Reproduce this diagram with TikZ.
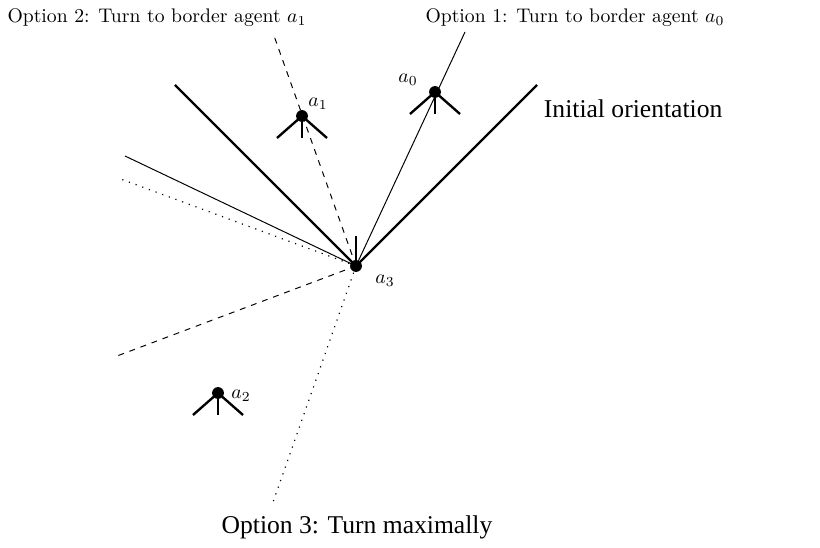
\documentclass[tikz,border=0pt]{standalone}
\usepackage{fontspec}
\usepackage{amsmath}
\newfontfamily\timesfont{Liberation Serif}
\usetikzlibrary{calc}

\begin{document}
\begin{tikzpicture}[x=0.508pt,y=-0.508pt]
\useasboundingbox (0,0) rectangle (820,548);
\coordinate (a3) at (356,266);
\coordinate (init left) at (175,85);
\coordinate (init right) at (537,85);
\coordinate (opt one) at (465,32);
\coordinate (opt two) at (273,33);
\coordinate (opt three) at (272,505);
\coordinate (solid left) at (125,156);
\coordinate (dot left) at (118,178);
\coordinate (dash left) at (117,356);
\coordinate (head) at (356,236);
\draw[line width=1.2pt] (init left) -- (a3) -- (init right);
\draw[line width=1.2pt] (a3) -- (head);
\draw[line width=0.5pt] (a3) -- (opt one);
\draw[line width=0.5pt] (a3) -- (solid left);
\draw[line width=0.5pt,dashed] (a3) -- (opt two);
\draw[line width=0.5pt,dashed] (a3) -- (dash left);
\draw[line width=0.6pt,dash pattern=on 0.6pt off 3pt] (a3) -- (dot left);
\draw[line width=0.6pt,dash pattern=on 0.6pt off 3pt] (a3) -- (opt three);
\foreach \n/\x/\y in {p0/435/92,p1/302/116,p2/218/393} {
  \coordinate (\n) at (\x,\y);
  \draw[line width=1.2pt] (\x-25,\y+22) -- (\n) -- (\x+25,\y+22);
  \draw[line width=1.2pt] (\n) -- (\x,\y+22);
  \fill (\n) circle (3pt);
}
\fill (a3) circle (3pt);
\node (l0) at (408,80) {$a_0$};
\node (l1) at (318,104) {$a_1$};
\node (l2) at (241,396) {$a_2$};
\node (l3) at (385,281) {$a_3$};
\node (t2) at (157,18) {Option 2: Turn to border agent $a_1$};
\node (t1) at (575,18) {Option 1: Turn to border agent $a_0$};
\node[font=\timesfont\fontsize{13}{15}\selectfont,anchor=west] (ti) at (537,109) {Initial orientation};
\node[font=\timesfont\fontsize{13}{15}\selectfont] (t3) at (357,527) {Option 3: Turn maximally};
\end{tikzpicture}
\end{document}
